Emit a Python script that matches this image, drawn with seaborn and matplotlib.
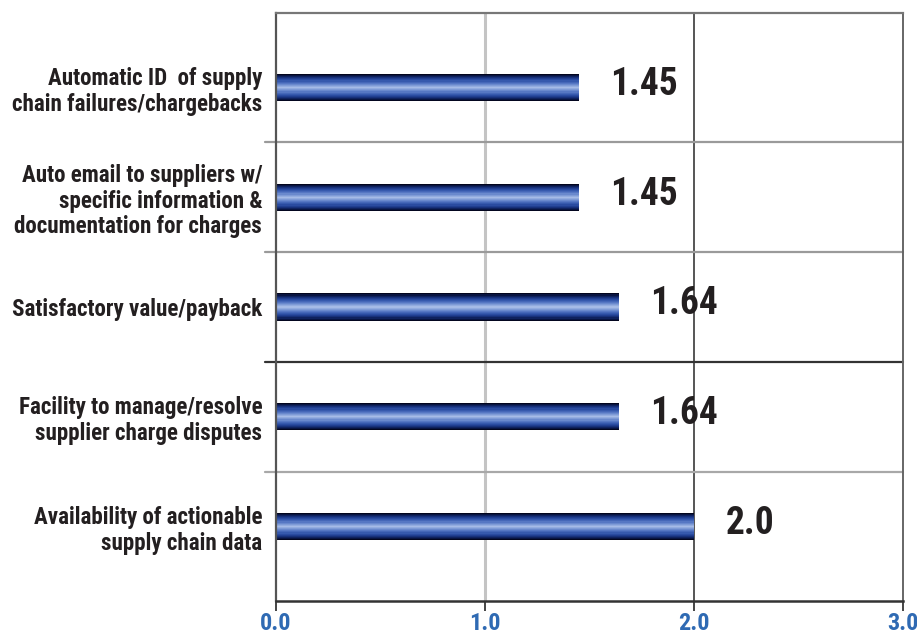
import matplotlib
matplotlib.use("Agg")
import matplotlib.pyplot as plt
import seaborn as sns
import pandas as pd

categories = [
    "Automatic ID  of supply\nchain failures/chargebacks",
    "Auto email to suppliers w/\nspecific information &\ndocumentation for charges",
    "Satisfactory value/payback",
    "Facility to manage/resolve\nsupplier charge disputes",
    "Availability of actionable\nsupply chain data",
]
values = [1.45, 1.45, 1.64, 1.64, 2.0]
value_labels = ["1.45", "1.45", "1.64", "1.64", "2.0"]
xticks = [0.0, 1.0, 2.0, 3.0]
xtick_labels = ["0.0", "1.0", "2.0", "3.0"]

df = pd.DataFrame({"category": categories, "value": values})

sns.set_theme(style="white")
FONT = ["Roboto Condensed", "DejaVu Sans"]
plt.rcParams["font.family"] = FONT

fig = plt.figure(figsize=(9.17, 6.35), dpi=100)
ax = fig.add_axes([0.301, 0.0535, 0.6837, 0.926])

layers = [
    (0.250, "#03061f"),
    (0.230, "#081442"),
    (0.210, "#0f225e"),
    (0.190, "#17307a"),
    (0.170, "#203e8f"),
    (0.150, "#2a4ba0"),
    (0.130, "#3659ad"),
    (0.110, "#4567b8"),
    (0.090, "#5677c3"),
    (0.070, "#6a89cd"),
    (0.050, "#7f9bd6"),
    (0.030, "#93acdf"),
    (0.012, "#a6bbe6"),
]
for w, c in layers:
    sns.barplot(data=df, x="value", y="category", orient="h", color=c,
                saturation=1, width=w, ax=ax, linewidth=0)

for i, (v, lab) in enumerate(zip(values, value_labels)):
    ax.text(v + 0.15, i - 0.03, lab, ha="left", va="center", fontsize=27,
            fontweight="bold", color="#231f20", family=FONT)

ax.set_xlim(0, 3.0)
ax.set_ylim(4.68, -0.68)

# vertical grid lines
ax.axvline(1.0, color="#c4c4c4", lw=2.2, zorder=0)
ax.axvline(2.0, color="#555555", lw=1.4, zorder=0)
# horizontal separators
hcolors = ["#9a9a9a", "#9a9a9a", "#333333", "#a8a8a8"]
for k, hc in enumerate(hcolors):
    ax.axhline(k + 0.5, xmin=-0.018, xmax=1.0, color=hc, lw=1.6,
               clip_on=False, zorder=0)

for side, col, lw in [("left", "#555555", 1.6), ("right", "#666666", 1.4),
                      ("top", "#777777", 1.6), ("bottom", "#333333", 1.8)]:
    ax.spines[side].set_visible(True)
    ax.spines[side].set_color(col)
    ax.spines[side].set_linewidth(lw)

ax.set_xticks(xticks)
ax.set_xticklabels(xtick_labels, fontsize=17.5, fontweight="bold",
                   color="#2f6ab3", family=FONT)
ax.tick_params(axis="x", length=7, width=1.4, color="#444444", pad=1,
               direction="out", bottom=True)
ax.tick_params(axis="y", length=0, pad=10)
for t in ax.get_yticklabels():
    t.set_fontsize(16.6)
    t.set_fontweight("bold")
    t.set_color("#231f20")
    t.set_family(FONT)
    t.set_linespacing(1.15)

ax.set_xlabel("")
ax.set_ylabel("")
ax.grid(False)

fig.savefig("out.png", dpi=100)
